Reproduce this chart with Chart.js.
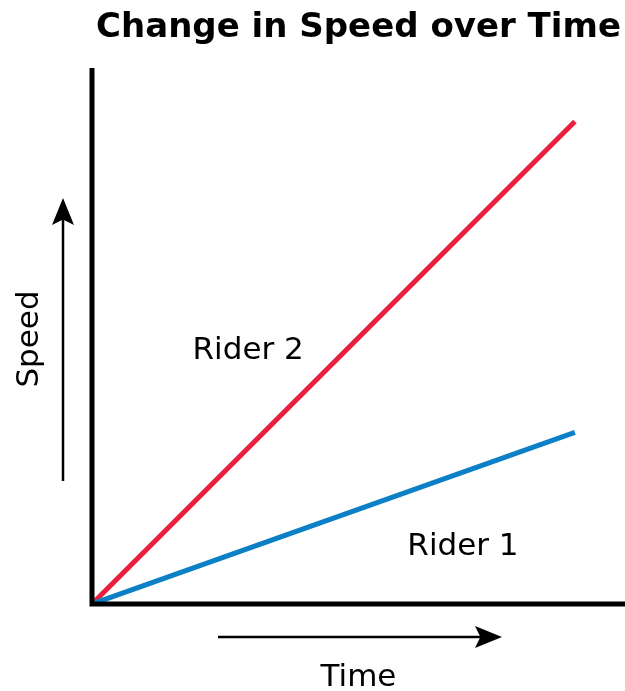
<!DOCTYPE html>
<html>
<head>
<meta charset="utf-8">
<script src="https://cdn.jsdelivr.net/npm/chart.js@4/dist/chart.umd.min.js"></script>
<style>
  html, body { margin: 0; padding: 0; background: #fff; }
  #wrap { width: 625px; height: 691px; }
</style>
</head>
<body>
<div id="wrap"><canvas id="grafico"></canvas></div>
<script>
// dados (escala 0-100 sem marcas)
const tempo = [0, 90.6];
const rider1 = [0, 32];
const rider2 = [0, 90];
const nomes = ["Rider 1", "Rider 2"];
// posição dos rótulos em unidades dos dados
const rotulos = [
  { texto: "Rider 2", x: 29.3, y: 47.3 },
  { texto: "Rider 1", x: 69.6, y: 10.6 }
];
const titulo = "Change in Speed over Time";
const tituloX = "Time";
const tituloY = "Speed";

const fonte = "DejaVu Sans, Verdana, sans-serif";

function seta(ctx, x1, y1, x2, y2) {
  const ang = Math.atan2(y2 - y1, x2 - x1);
  const comp = 27, larg = 11;
  ctx.save();
  ctx.strokeStyle = "#000";
  ctx.fillStyle = "#000";
  ctx.lineWidth = 2.5;
  ctx.beginPath();
  ctx.moveTo(x1, y1);
  ctx.lineTo(x2 - Math.cos(ang) * comp * 0.7, y2 - Math.sin(ang) * comp * 0.7);
  ctx.stroke();
  ctx.translate(x2, y2);
  ctx.rotate(ang);
  ctx.beginPath();
  ctx.moveTo(0, 0);
  ctx.lineTo(-comp, -larg);
  ctx.lineTo(-comp * 0.8, 0);
  ctx.lineTo(-comp, larg);
  ctx.closePath();
  ctx.fill();
  ctx.restore();
}

const desenhoExtra = {
  id: "desenhoExtra",
  afterDatasetsDraw(chart) {
    const { ctx, chartArea: a, scales } = chart;
    const x0 = scales.x.getPixelForValue(0);
    const y0 = scales.y.getPixelForValue(0);
    ctx.save();
    // eixos
    ctx.strokeStyle = "#000";
    ctx.lineWidth = 5;
    ctx.beginPath();
    ctx.moveTo(x0, a.top);
    ctx.lineTo(x0, y0);
    ctx.lineTo(a.right, y0);
    ctx.stroke();

    ctx.fillStyle = "#000";
    ctx.textAlign = "center";
    ctx.textBaseline = "middle";
    // rótulos das retas
    ctx.font = "31px " + fonte;
    rotulos.forEach(r => {
      ctx.fillText(r.texto, scales.x.getPixelForValue(r.x), scales.y.getPixelForValue(r.y));
    });
    // título
    const cx = (a.left + a.right) / 2;
    const cy = (a.top + a.bottom) / 2;
    ctx.font = "bold 34px " + fonte;
    ctx.fillText(titulo, cx, 28);
    // título do eixo x + seta
    ctx.font = "31px " + fonte;
    ctx.fillText(tituloX, cx, a.bottom + 74);
    seta(ctx, a.left + 126, a.bottom + 33, a.left + 410, a.bottom + 33);
    // título do eixo y + seta
    ctx.save();
    ctx.translate(a.left - 62, cy + 3);
    ctx.rotate(-Math.PI / 2);
    ctx.fillText(tituloY, 0, 0);
    ctx.restore();
    seta(ctx, a.left - 29, a.bottom - 123, a.left - 29, a.top + 130);
    ctx.restore();
  }
};

new Chart(document.getElementById("grafico"), {
  type: "line",
  data: {
    labels: tempo,
    datasets: [
      {
        label: nomes[0],
        data: tempo.map((t, i) => ({ x: t, y: rider1[i] })),
        borderColor: "#0c80c6",
        borderWidth: 5,
        pointRadius: 0
      },
      {
        label: nomes[1],
        data: tempo.map((t, i) => ({ x: t, y: rider2[i] })),
        borderColor: "#ea1f3d",
        borderWidth: 5,
        pointRadius: 0
      }
    ]
  },
  options: {
    responsive: true,
    maintainAspectRatio: false,
    animation: false,
    layout: { padding: { left: 92, right: 0, top: 68, bottom: 87 } },
    plugins: {
      legend: { display: false },
      title: { display: false },
      tooltip: { enabled: false }
    },
    scales: {
      x: { type: "linear", min: 0, max: 100, display: false },
      y: { type: "linear", min: 0, max: 100, display: false }
    }
  },
  plugins: [desenhoExtra]
});
</script>
</body>
</html>
